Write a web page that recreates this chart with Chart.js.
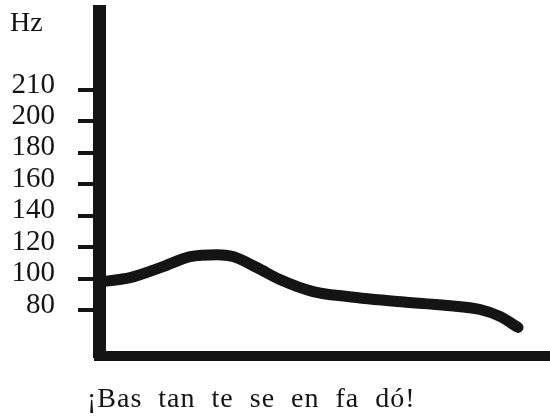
<!DOCTYPE html>
<html lang="es">
<head>
    <meta charset="UTF-8">
    <title>Entonación</title>
    <script src="https://cdn.jsdelivr.net/npm/chart.js"></script>
    <style>
        html, body { margin: 0; padding: 0; background: #fff; }
        #wrap { width: 550px; height: 418px; }
    </style>
</head>
<body>
    <div id="wrap"><canvas id="pitchChart"></canvas></div>
    <script>
    // time along the utterance (0-100) and the pitch
    const timeX = [0.8, 6.9, 14.2, 20.2, 26.2, 29.7, 35.0, 40.1, 47.5, 55.0, 66.1, 77.2, 84.5, 88.9, 92.9];
    const pitchHz = [98.1, 100.6, 107.6, 114, 115.2, 114, 107, 99.4, 91.7, 88.6, 85.4, 82.9, 80.3, 75.9, 68.9];

    // the drawing puts 210 one full step above 200, so it sits where 220 would be
    const tickValues = [80, 100, 120, 140, 160, 180, 200, 220];
    const tickLabels = ["80", "100", "120", "140", "160", "180", "200", "210"];

    const unitLabel = "Hz";
    const caption = "¡Bas tan te se en fa dó!";

    const ink = "#141414";
    const serif = "'Liberation Serif', 'DejaVu Serif', serif";

    // "Hz" above the tick labels and the sentence under the time axis
    const textPlugin = {
        id: "extraText",
        afterDraw(chart) {
            const ctx = chart.ctx;
            ctx.save();
            ctx.fillStyle = ink;
            ctx.textBaseline = "alphabetic";
            ctx.textAlign = "left";
            ctx.font = "28px " + serif;
            ctx.fillText(unitLabel, 10, 31);
            ctx.letterSpacing = "1px";
            ctx.wordSpacing = "8px";
            ctx.fillText(caption, 87, 407);
            ctx.restore();
        }
    };

    new Chart(document.getElementById("pitchChart"), {
        type: "line",
        data: {
            datasets: [{
                data: timeX.map((x, i) => ({ x: x, y: pitchHz[i] })),
                borderColor: ink,
                borderWidth: 11,
                borderCapStyle: "round",
                borderJoinStyle: "round",
                tension: 0.4,
                cubicInterpolationMode: "monotone",
                pointRadius: 0,
                fill: false
            }]
        },
        options: {
            responsive: true,
            maintainAspectRatio: false,
            animation: false,
            layout: { padding: { left: 0, right: 0, top: 11, bottom: 0 } },
            plugins: {
                legend: { display: false },
                tooltip: { enabled: false }
            },
            scales: {
                x: {
                    type: "linear",
                    min: 0,
                    max: 100,
                    grid: { display: false },
                    border: { display: true, width: 10, color: ink },
                    ticks: { display: false },
                    afterFit: (scale) => {
                        scale.height = 62;
                        scale.paddingLeft = 0;
                        scale.paddingRight = 0;
                    }
                },
                y: {
                    type: "linear",
                    min: 50.7,
                    max: 270.3,
                    afterBuildTicks: (scale) => {
                        scale.ticks = tickValues.map(v => ({ value: v }));
                    },
                    afterFit: (scale) => {
                        scale.width = 99;
                        scale.paddingTop = 0;
                        scale.paddingBottom = 0;
                    },
                    grid: {
                        drawOnChartArea: false,
                        drawTicks: true,
                        tickLength: 21,
                        lineWidth: 4,
                        tickColor: ink
                    },
                    border: { display: true, width: 13, color: ink },
                    ticks: {
                        color: ink,
                        padding: 23,
                        labelOffset: -5,
                        font: { family: serif, size: 29 },
                        callback: (value) => {
                            const i = tickValues.indexOf(value);
                            return i >= 0 ? tickLabels[i] : "";
                        }
                    }
                }
            }
        },
        plugins: [textPlugin]
    });
    </script>
</body>
</html>
